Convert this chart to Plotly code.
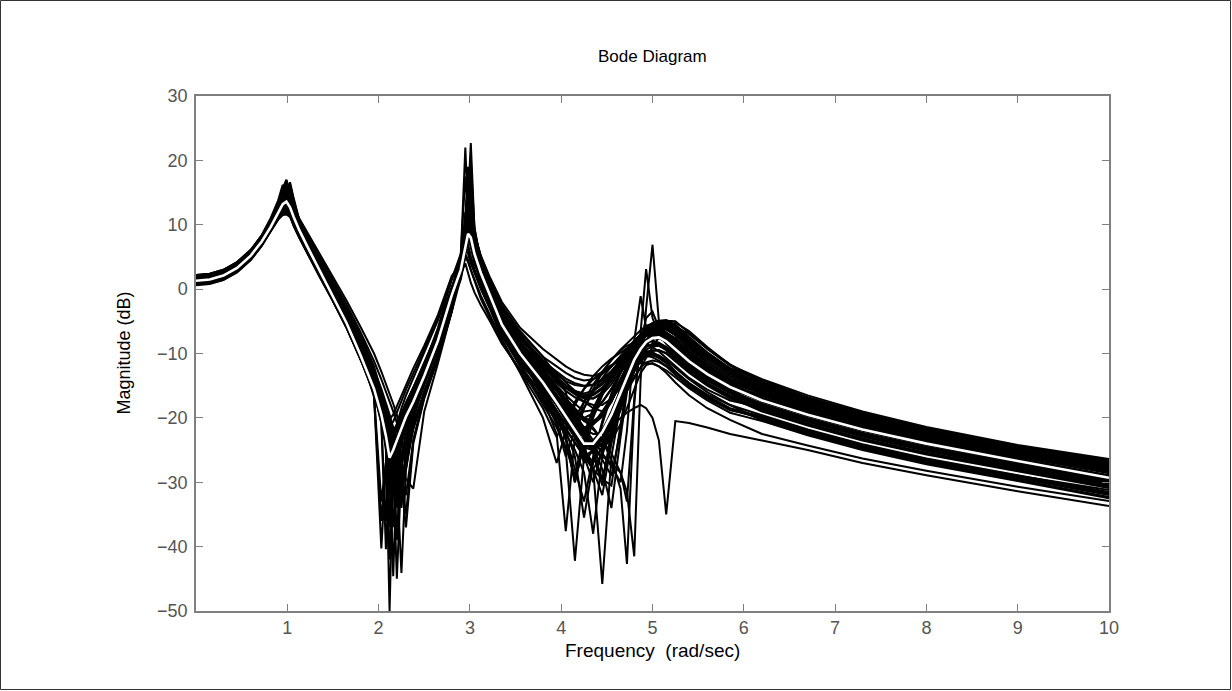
import plotly.graph_objects as go

# Frequency grid (rad/sec) shared by every curve
freq = [0.0, 0.15, 0.3, 0.45, 0.6, 0.72, 0.82, 0.9, 0.95, 0.99,
        1.03, 1.07, 1.13, 1.22, 1.35, 1.5, 1.65, 1.8,
        1.95, 2.03, 2.08, 2.12, 2.16, 2.2, 2.25, 2.3, 2.38, 2.5, 2.65, 2.8,
        2.9, 2.95, 2.98, 3.01, 3.05, 3.12, 3.22, 3.35, 3.55,
        3.8, 3.95, 4.05, 4.15, 4.25, 4.35, 4.45, 4.55, 4.65, 4.72,
        4.8, 4.87, 4.93, 5.0, 5.07, 5.15, 5.25, 5.4, 5.6, 5.85,
        6.2, 6.7, 7.3, 8.0, 9.0, 10.0]

# Nominal model magnitude (dB) - white curve
nominal = [1.3, 1.5, 2.1, 3.3, 5.2, 7.4, 9.7, 11.8, 13.2, 13.6, 12.7, 11.2, 9.2, 6.6, 3.0, -1.0, -5.3, -10.2,
           -15.5, -19.5, -22.8, -26.2, -25.0, -23.5, -21.6, -19.8, -17.5, -13.5, -8.0, -1.0,
           3.0, 6.8, 8.6, 8.0, 5.5, 2.5, -1.0, -5.5, -10.0,
           -14.5, -17.6, -19.8, -22.0, -24.0, -24.0, -22.2, -19.5, -16.0, -13.5, -11.0, -9.3, -8.2, -7.6, -7.5, -8.1, -9.3, -11.2, -13.2, -15.2,
           -17.3, -19.5, -21.8, -24.0, -26.7, -29.3]

# Perturbed (uncertain) model magnitudes (dB) - black curves
mag_01 = [2.2, 2.4, 3.0, 4.2, 6.1, 8.3, 10.6, 13.3, 15.5, 16.9, 15.0, 12.7, 10.3, 7.5, 3.9, -0.1, -4.4, -9.4,
          -15.7, -20.0, -24.5, -50.0, -27.5, -24.3, -22.0, -20.0, -17.6, -13.6, -8.2, -1.2,
          4.0, 9.0, 14.0, 22.7, 9.5, 4.0, -0.5, -5.0, -9.5,
          -13.8, -16.8, -18.8, -21.0, -23.0, -24.5, -24.0, -21.5, -18.0, -15.3, -12.5, -10.2, -8.6, -7.5, -7.0, -7.2, -8.2, -10.2, -12.3, -14.4,
          -16.3, -18.6, -20.9, -23.1, -25.8, -28.4]
mag_02 = [1.9, 2.1, 2.7, 3.9, 5.8, 8.0, 10.3, 12.8, 14.6, 15.6, 14.1, 12.2, 9.9, 7.2, 3.6, -0.4, -4.7, -9.6,
          -14.8, -17.8, -19.3, -20.2, -19.5, -18.2, -16.4, -14.7, -12.3, -8.8, -4.0, 2.0,
          4.0, 8.5, 12.0, 11.0, 8.0, 4.5, 1.5, -2.5, -6.5,
          -10.5, -12.0, -13.0, -13.8, -14.2, -14.0, -13.2, -12.0, -10.5, -9.3, -8.0, -7.0, -6.3, -5.8, -5.6, -5.8, -6.6, -8.3, -10.2, -12.3,
          -14.2, -16.8, -19.2, -21.6, -24.4, -26.6]
mag_03 = [1.6, 1.8, 2.4, 3.6, 5.5, 7.7, 10.0, 12.3, 14.0, 14.7, 13.5, 11.7, 9.6, 6.9, 3.3, -0.7, -5.0, -9.9,
          -16.5, -40.3, -27.5, -25.0, -23.0, -21.3, -19.5, -17.8, -15.5, -11.8, -6.8, 0.0,
          4.0, 9.5, 18.0, 11.5, 6.5, 3.0, -0.5, -5.0, -9.5,
          -17.0, -22.5, -37.6, -23.0, -18.5, -15.5, -13.0, -11.0, -9.5, -8.8, -8.3, -8.2, -8.5, -9.0, -9.7, -10.7, -12.0, -13.8, -15.6, -17.3,
          -18.4, -20.6, -22.9, -25.1, -27.7, -30.3]
mag_04 = [1.4, 1.6, 2.2, 3.4, 5.3, 7.5, 9.8, 12.0, 13.5, 13.9, 12.9, 11.4, 9.3, 6.7, 3.1, -0.9, -5.2, -10.2,
          -15.0, -18.8, -21.8, -25.5, -44.6, -27.5, -23.5, -21.2, -18.5, -14.3, -8.7, -1.6,
          3.5, 8.0, 11.0, 16.0, 8.0, 3.5, -0.3, -5.0, -9.5,
          -16.5, -20.5, -25.0, -42.2, -26.0, -20.0, -16.5, -13.5, -11.0, -9.5, -8.2, -7.3, -7.0, -7.0, -7.4, -8.3, -9.6, -11.5, -13.5, -15.5,
          -17.4, -19.6, -21.9, -24.1, -26.8, -29.4]
mag_05 = [1.0, 1.2, 1.8, 3.0, 4.9, 7.1, 9.4, 11.4, 12.7, 12.9, 12.2, 10.8, 8.9, 6.3, 2.9, -0.6, -3.8, -7.8,
          -13.0, -17.0, -19.8, -22.5, -25.2, -29.0, -44.1, -28.0, -21.5, -16.0, -10.0, -2.8,
          3.5, 8.5, 13.0, 10.0, 6.5, 3.0, -0.5, -5.0, -9.5,
          -14.8, -17.5, -19.5, -21.5, -24.5, -28.0, -45.8, -26.0, -18.0, -14.5, -11.5, -9.5, -8.2, -7.4, -7.2, -7.8, -9.0, -11.0, -13.0, -15.0,
          -17.1, -19.3, -21.6, -23.8, -26.5, -29.1]
mag_06 = [0.7, 0.9, 1.5, 2.7, 4.6, 6.8, 9.1, 10.9, 11.6, 11.8, 11.4, 10.3, 8.5, 6.0, 2.4, -1.6, -5.9, -10.8,
          -15.2, -19.0, -22.0, -25.0, -28.5, -39.0, -27.5, -23.5, -19.5, -14.8, -9.0, -2.0,
          2.0, 6.0, 5.5, 4.0, 2.5, 0.0, -3.0, -7.0, -11.5,
          -15.5, -19.0, -22.0, -26.0, -35.5, -27.0, -21.0, -16.5, -13.0, -11.0, -9.3, -8.0, -7.3, -6.9, -6.9, -7.5, -8.8, -10.8, -12.9, -14.9,
          -17.0, -19.2, -21.5, -23.7, -26.4, -29.0]
mag_07 = [1.8, 2.0, 2.6, 3.8, 5.5, 7.5, 9.5, 11.3, 12.5, 14.6, 16.3, 13.8, 10.7, 8.1, 4.4, 0.3, -4.1, -9.6,
          -16.0, -20.8, -40.4, -28.0, -25.0, -23.0, -21.0, -19.0, -16.8, -12.8, -7.5, -0.5,
          4.5, 10.0, 15.0, 11.0, 7.0, 3.5, 0.0, -4.5, -9.0,
          -13.5, -15.5, -17.0, -18.5, -20.0, -21.5, -23.5, -26.5, -31.0, -42.7, -18.0, -6.0, 3.1, -4.5, -7.0, -8.5, -10.0, -12.0, -14.0, -16.0,
          -18.1, -20.3, -22.6, -24.8, -27.4, -30.0]
mag_08 = [1.2, 1.4, 2.0, 3.2, 5.3, 7.7, 10.4, 12.9, 15.2, 13.7, 11.4, 9.9, 8.1, 5.6, 2.3, -1.0, -4.5, -8.4,
          -13.2, -16.5, -18.7, -20.8, -23.0, -25.0, -27.5, -29.5, -31.0, -19.0, -11.5, -3.5,
          2.8, 7.5, 11.0, 9.5, 6.0, 2.8, -0.8, -5.3, -9.8,
          -13.8, -15.8, -17.3, -18.8, -20.2, -21.8, -23.5, -25.5, -28.5, -31.5, -41.5, -14.0, -3.0, 6.9, -5.0, -8.0, -9.8, -11.8, -13.8, -15.8,
          -18.0, -20.2, -22.5, -24.7, -27.3, -29.9]
mag_09 = [2.1, 2.3, 2.9, 4.1, 6.0, 8.2, 10.5, 13.1, 15.2, 16.4, 14.7, 12.5, 10.2, 7.4, 3.8, -0.2, -4.5, -9.5,
          -15.8, -20.3, -24.0, -35.0, -28.0, -24.8, -22.3, -20.3, -17.8, -13.7, -8.3, -1.3,
          5.0, 22.0, 12.0, 7.0, 4.5, 1.5, -2.0, -6.5, -11.0,
          -12.0, -14.0, -15.0, -15.8, -16.2, -15.8, -14.8, -13.2, -11.2, -9.8, -8.3, -7.0, -6.0, -5.3, -5.0, -5.0, -5.8, -7.8, -10.2, -12.6,
          -15.2, -17.6, -20.0, -22.4, -25.2, -27.4]
mag_10 = [1.8, 2.0, 2.6, 3.8, 5.7, 7.9, 10.2, 12.6, 14.4, 15.3, 13.9, 12.0, 9.8, 7.1, 3.5, -0.5, -4.8, -9.7,
          -15.3, -19.3, -22.5, -26.0, -30.0, -26.0, -22.8, -20.6, -18.0, -13.9, -8.5, -1.5,
          3.3, 8.2, 12.5, 9.8, 6.3, 2.9, -0.6, -5.1, -9.6,
          -14.0, -16.5, -18.2, -20.0, -22.0, -24.5, -28.0, -34.0, -23.0, -16.0, -11.0, -8.5, -7.2, -6.5, -6.4, -7.0, -8.3, -10.3, -12.5, -14.6,
          -16.9, -19.1, -21.4, -23.6, -26.3, -28.9]
mag_11 = [1.5, 1.7, 2.3, 3.5, 5.4, 7.6, 9.9, 12.2, 13.8, 14.5, 13.3, 11.6, 9.5, 6.8, 3.2, -0.8, -5.1, -10.0,
          -15.2, -18.8, -21.2, -23.0, -22.5, -21.2, -19.5, -17.8, -15.3, -11.5, -6.5, 0.3,
          3.1, 7.0, 8.9, 8.2, 5.7, 2.6, -0.9, -5.4, -9.9,
          -15.5, -18.8, -21.0, -23.0, -24.5, -24.0, -22.0, -19.8, -17.5, -15.8, -13.8, -12.0, -10.5, -9.0, -7.5, -6.0, -5.2, -6.5, -9.0, -11.8,
          -14.0, -16.5, -19.0, -21.4, -24.2, -26.4]
mag_12 = [1.4, 1.6, 2.2, 3.4, 5.3, 7.5, 9.8, 12.0, 13.5, 14.1, 13.0, 11.4, 9.4, 6.9, 3.5, -0.2, -3.6, -7.6,
          -13.0, -17.0, -20.0, -23.0, -25.8, -28.5, -33.0, -27.0, -21.8, -16.3, -10.3, -3.2,
          2.6, 7.2, 10.5, 9.0, 5.6, 2.4, -1.2, -5.8, -10.4,
          -15.0, -17.5, -19.0, -20.5, -21.8, -22.5, -22.5, -21.5, -20.0, -19.2, -18.5, -18.0, -18.5, -20.0, -23.5, -35.0, -20.5, -20.8, -21.5, -22.5,
          -23.5, -25.0, -27.0, -28.9, -31.4, -33.7]
mag_13 = [0.9, 1.1, 1.7, 2.9, 4.8, 7.0, 9.3, 11.2, 12.4, 12.5, 11.9, 10.6, 8.7, 6.2, 2.6, -1.4, -5.7, -10.6,
          -15.5, -19.6, -23.0, -27.0, -25.3, -23.6, -21.7, -19.9, -17.6, -13.6, -8.1, -1.1,
          2.5, 4.0, 2.5, 1.0, -0.5, -2.5, -5.0, -8.5, -12.5,
          -16.0, -17.0, -18.5, -20.5, -22.5, -24.0, -24.5, -23.5, -21.0, -18.5, -15.5, -13.0, -11.8, -11.5, -12.0, -13.0, -14.5, -16.5, -18.5, -20.3,
          -22.5, -24.3, -26.3, -28.2, -30.7, -32.9]
mag_14 = [0.8, 1.0, 1.6, 2.8, 4.7, 6.9, 9.2, 11.1, 11.9, 12.1, 11.6, 10.5, 8.6, 6.3, 2.9, -0.7, -4.2, -8.0,
          -13.0, -16.6, -19.2, -21.6, -23.8, -26.5, -30.0, -37.0, -24.0, -17.0, -10.8, -3.5,
          3.2, 7.5, 10.0, 8.0, 4.5, 1.0, -2.8, -7.8, -13.0,
          -20.0, -27.0, -22.0, -18.0, -15.5, -13.5, -12.0, -10.8, -9.8, -9.2, -8.6, -8.2, -8.0, -8.0, -8.3, -9.0, -10.2, -12.0, -14.0, -16.0,
          -18.2, -20.4, -22.7, -24.9, -27.5, -30.1]
mag_15 = [1.7, 1.9, 2.5, 3.7, 5.4, 7.4, 9.4, 11.2, 12.4, 14.2, 15.8, 13.4, 10.6, 8.0, 4.3, 0.2, -4.1, -9.7,
          -15.6, -19.8, -23.3, -28.0, -25.8, -23.9, -21.9, -20.0, -17.7, -13.7, -8.2, -1.2,
          3.8, 9.2, 17.0, 11.0, 6.2, 2.8, -0.7, -5.2, -9.7,
          -15.0, -18.0, -20.5, -23.0, -26.0, -30.0, -25.0, -20.0, -15.5, -13.0, -10.8, -9.2, -8.2, -7.6, -7.5, -8.0, -9.2, -11.1, -13.1, -15.1,
          -16.5, -18.8, -21.1, -23.3, -26.0, -28.6]
mag_16 = [1.1, 1.3, 1.9, 3.1, 5.2, 7.6, 10.3, 12.8, 14.8, 13.4, 11.3, 9.8, 8.0, 5.5, 2.0, -1.9, -6.1, -10.8,
          -15.4, -19.0, -21.5, -23.5, -23.0, -21.6, -19.8, -18.0, -15.5, -11.7, -6.7, 0.1,
          3.8, 8.3, 12.8, 10.5, 7.6, 4.2, 1.2, -2.8, -7.0,
          -12.3, -14.3, -15.4, -16.3, -16.8, -16.5, -15.5, -13.8, -11.8, -10.3, -8.7, -7.3, -6.3, -5.6, -5.3, -5.4, -6.2, -8.2, -10.6, -13.0,
          -15.5, -17.9, -20.3, -22.7, -25.4, -27.7]
mag_17 = [2.0, 2.2, 2.8, 4.0, 5.9, 8.1, 10.4, 12.9, 14.9, 15.9, 14.4, 12.3, 10.1, 7.3, 3.7, -0.3, -4.6, -9.5,
          -15.1, -19.0, -22.2, -26.5, -37.0, -28.0, -23.8, -21.4, -18.7, -14.5, -8.9, -1.8,
          4.2, 9.6, 14.5, 10.6, 6.8, 3.3, -0.2, -4.8, -9.3,
          -14.0, -16.5, -18.0, -19.8, -21.5, -23.5, -25.5, -27.5, -30.0, -22.0, -8.0, -1.1, -6.0, -8.0, -8.6, -9.3, -10.5, -12.3, -14.2, -16.0,
          -18.3, -20.5, -22.8, -25.0, -27.6, -30.2]
mag_18 = [1.7, 1.9, 2.5, 3.7, 5.6, 7.8, 10.1, 12.5, 14.2, 15.0, 13.7, 11.9, 9.7, 7.0, 3.4, -0.6, -4.9, -9.8,
          -15.0, -18.8, -21.6, -24.5, -27.5, -33.0, -26.5, -23.0, -19.2, -14.6, -8.8, -1.8,
          3.4, 7.8, 10.5, 15.0, 7.5, 3.2, -0.6, -5.3, -9.8,
          -16.0, -19.5, -21.8, -24.0, -26.0, -28.0, -25.5, -22.0, -18.0, -15.0, -12.5, -11.0, -10.2, -10.0, -10.3, -11.0, -12.2, -14.0, -16.0, -18.0,
          -20.4, -22.6, -24.8, -27.0, -29.6, -32.3]
mag_19 = [1.2, 1.4, 2.0, 3.2, 5.1, 7.3, 9.6, 11.7, 13.1, 13.5, 12.6, 11.1, 9.1, 6.5, 2.9, -1.1, -5.4, -10.3,
          -15.8, -20.2, -25.0, -42.0, -27.0, -24.0, -21.8, -19.9, -17.5, -13.5, -8.1, -1.1,
          3.6, 8.7, 13.5, 10.3, 6.7, 3.1, -0.4, -4.9, -9.4,
          -13.5, -16.4, -18.4, -20.6, -22.6, -24.2, -24.3, -22.3, -18.8, -15.8, -12.8, -10.2, -8.5, -7.2, -6.6, -6.7, -7.7, -9.8, -12.0, -14.1,
          -16.0, -18.3, -20.6, -22.8, -25.5, -28.1]
mag_20 = [1.1, 1.3, 1.9, 3.1, 5.0, 7.2, 9.5, 11.5, 12.8, 13.1, 12.3, 10.9, 9.0, 6.4, 2.8, -1.2, -5.5, -10.4,
          -15.6, -20.0, -23.5, -32.0, -27.5, -24.5, -22.0, -20.1, -17.7, -13.6, -8.2, -1.2,
          2.9, 7.6, 11.5, 9.3, 5.8, 2.6, -0.9, -5.4, -9.9,
          -14.7, -17.8, -20.2, -22.8, -25.5, -28.0, -29.5, -23.0, -17.0, -13.8, -11.2, -9.4, -8.3, -7.7, -7.6, -8.1, -9.3, -11.2, -13.2, -15.2,
          -17.5, -19.7, -22.0, -24.2, -26.9, -29.6]
mag_21 = [2.0, 2.2, 2.8, 4.0, 5.9, 8.1, 10.4, 12.9, 15.0, 16.0, 14.5, 12.3, 10.1, 7.3, 3.7, -0.3, -4.6, -9.5,
          -15.6, -19.7, -23.2, -29.0, -26.0, -24.0, -21.9, -20.0, -17.7, -13.7, -8.2, -1.2,
          2.9, 6.6, 9.3, 8.3, 5.4, 2.3, -1.2, -5.7, -10.2,
          -14.5, -17.6, -19.8, -22.0, -24.0, -24.0, -22.2, -19.5, -16.5, -14.5, -12.5, -11.2, -10.5, -10.3, -10.6, -11.4, -12.8, -14.7, -16.7, -18.6,
          -20.2, -22.4, -24.6, -26.8, -29.4, -32.0]
mag_22 = [0.6, 0.8, 1.4, 2.6, 4.5, 6.7, 9.0, 10.8, 11.5, 11.6, 11.2, 10.2, 8.4, 5.9, 2.3, -1.7, -6.0, -10.9,
          -15.4, -19.5, -22.9, -27.0, -32.0, -26.5, -23.0, -20.7, -18.1, -14.0, -8.6, -1.6,
          2.2, 6.5, 7.0, 5.0, 3.0, 0.3, -2.8, -6.8, -11.3,
          -15.0, -18.0, -20.3, -22.6, -24.6, -25.0, -23.5, -21.0, -18.0, -15.8, -13.6, -12.2, -11.4, -11.1, -11.3, -12.0, -13.3, -15.1, -17.0, -18.8,
          -19.8, -22.0, -24.3, -26.5, -29.1, -31.7]
mag_23 = [1.4, 1.6, 2.2, 3.4, 5.3, 7.5, 9.8, 12.1, 13.7, 14.3, 13.2, 11.5, 9.4, 6.7, 3.1, -0.9, -5.2, -10.1,
          -15.0, -18.2, -20.0, -21.2, -20.6, -19.3, -17.4, -15.6, -13.1, -9.4, -4.6, 1.5,
          4.2, 8.8, 12.5, 11.5, 8.3, 4.7, 1.2, -3.0, -7.2,
          -11.2, -12.8, -13.9, -14.6, -15.0, -14.8, -14.0, -12.7, -11.0, -9.8, -8.4, -7.3, -6.5, -6.0, -5.9, -6.2, -7.0, -8.8, -10.8, -12.9,
          -15.0, -17.4, -19.8, -22.2, -25.0, -27.2]
mag_24 = [1.9, 2.1, 2.7, 3.9, 5.6, 7.6, 9.6, 11.4, 12.6, 14.9, 16.6, 14.1, 10.8, 8.2, 4.5, 0.4, -3.9, -9.5,
          -16.8, -36.0, -27.0, -24.7, -22.8, -21.1, -19.3, -17.6, -15.3, -11.6, -6.6, 0.2,
          4.6, 10.5, 16.5, 11.5, 7.2, 3.6, 0.1, -4.4, -8.9,
          -15.5, -19.0, -23.5, -30.0, -24.0, -19.0, -15.8, -13.0, -10.8, -9.4, -8.1, -7.2, -6.7, -6.5, -6.7, -7.5, -8.8, -10.8, -12.9, -15.0,
          -17.1, -19.3, -21.6, -23.8, -26.5, -29.1]
mag_25 = [1.3, 1.5, 2.1, 3.3, 5.4, 7.8, 10.5, 13.0, 15.0, 13.5, 11.5, 10.0, 8.2, 5.7, 2.6, -0.9, -4.3, -8.2,
          -13.5, -17.2, -19.9, -22.6, -25.3, -28.0, -31.0, -26.0, -21.0, -15.8, -10.0, -3.0,
          3.9, 9.3, 16.0, 11.2, 6.4, 2.9, -0.6, -5.1, -9.6,
          -14.2, -16.8, -18.6, -20.5, -22.6, -25.3, -29.5, -30.5, -21.0, -15.0, -10.5, -8.2, -7.0, -6.4, -6.3, -6.9, -8.1, -10.1, -12.3, -14.4,
          -16.3, -18.6, -20.9, -23.1, -25.8, -28.4]
mag_26 = [1.8, 2.0, 2.6, 3.8, 5.7, 7.9, 10.2, 12.5, 14.2, 15.0, 13.7, 11.9, 9.8, 7.3, 4.0, 0.4, -3.0, -7.0,
          -12.0, -15.8, -18.5, -21.0, -23.3, -26.0, -29.5, -35.0, -23.5, -16.5, -10.5, -3.2,
          3.3, 7.7, 10.2, 14.0, 7.3, 3.0, -0.7, -5.4, -9.9,
          -15.8, -19.5, -23.0, -28.0, -33.0, -26.0, -20.5, -16.2, -12.8, -10.8, -9.2, -7.9, -7.2, -6.8, -6.8, -7.4, -8.7, -10.7, -12.8, -14.8,
          -17.0, -19.2, -21.5, -23.7, -26.4, -29.0]
mag_27 = [1.6, 1.8, 2.4, 3.6, 5.5, 7.7, 10.0, 12.2, 13.7, 14.2, 13.2, 11.6, 9.5, 6.9, 3.3, -0.7, -5.0, -9.8,
          -15.2, -19.0, -22.0, -25.5, -31.0, -26.0, -22.5, -20.4, -17.9, -13.8, -8.3, -1.3,
          4.0, 9.8, 17.0, 11.0, 6.8, 3.3, -0.2, -4.5, -8.8,
          -12.8, -15.0, -16.5, -17.8, -19.0, -18.8, -17.5, -15.5, -13.0, -11.3, -9.5, -8.0, -7.0, -6.5, -6.4, -6.8, -7.9, -9.9, -12.0, -14.1,
          -16.2, -18.5, -20.8, -23.0, -25.7, -28.3]
mag_28 = [1.1, 1.3, 1.9, 3.1, 5.0, 7.2, 9.5, 11.6, 13.0, 13.3, 12.4, 11.0, 9.0, 6.4, 2.8, -1.2, -5.5, -10.1,
          -15.0, -18.7, -21.5, -24.5, -28.0, -38.0, -27.0, -23.0, -19.3, -14.6, -8.8, -1.8,
          3.2, 8.0, 12.0, 9.5, 6.0, 2.7, -0.8, -5.3, -9.8,
          -14.8, -18.0, -20.3, -22.6, -25.0, -27.0, -24.5, -21.0, -17.0, -14.3, -11.8, -10.0, -9.0, -8.5, -8.5, -9.0, -10.1, -12.0, -14.0, -16.0,
          -17.9, -20.1, -22.4, -24.6, -27.2, -29.8]
mag_29 = [1.9, 2.1, 2.7, 3.9, 5.8, 8.0, 10.3, 12.7, 14.4, 15.2, 13.9, 12.1, 9.9, 7.2, 3.6, -0.4, -4.7, -9.6,
          -15.0, -18.8, -21.6, -26.0, -24.6, -22.9, -20.9, -19.0, -16.6, -12.6, -7.3, -0.3,
          4.5, 10.5, 19.0, 12.0, 7.3, 3.8, 0.4, -3.9, -8.2,
          -12.0, -14.0, -15.2, -16.2, -17.0, -17.0, -16.0, -14.3, -12.2, -10.7, -9.0, -7.6, -6.6, -5.9, -5.5, -5.5, -6.3, -8.3, -10.6, -12.9,
          -15.3, -17.7, -20.1, -22.5, -25.2, -27.5]
mag_30 = [1.3, 1.5, 2.1, 3.3, 5.2, 7.4, 9.7, 11.9, 13.4, 14.0, 12.9, 11.3, 9.2, 6.6, 3.0, -1.0, -5.3, -10.0,
          -15.2, -19.0, -22.0, -25.0, -28.0, -34.0, -26.5, -22.8, -19.0, -14.4, -8.7, -1.7,
          3.0, 7.0, 9.5, 8.6, 5.8, 2.6, -1.0, -5.5, -10.2,
          -15.0, -18.0, -20.0, -21.6, -22.0, -21.0, -19.0, -16.8, -14.5, -13.0, -11.4, -10.2, -9.4, -8.9, -8.8, -9.2, -10.3, -12.2, -14.2, -16.2,
          -18.4, -20.6, -22.9, -25.1, -27.8, -30.5]
mag_31 = [1.7, 1.9, 2.5, 3.7, 5.6, 7.8, 10.1, 12.7, 14.9, 16.1, 14.4, 12.1, 9.8, 7.0, 3.4, -0.6, -4.9, -9.8,
          -15.4, -19.5, -22.9, -29.0, -26.0, -24.0, -22.0, -20.1, -17.7, -13.7, -8.2, -1.2,
          3.3, 7.8, 10.5, 14.0, 8.0, 3.5, -0.3, -4.9, -9.4,
          -15.5, -19.5, -23.0, -30.0, -24.0, -19.5, -16.0, -13.2, -10.8, -9.5, -8.3, -7.6, -7.2, -7.2, -7.5, -8.3, -9.6, -11.6, -13.7, -15.7,
          -17.0, -19.3, -21.6, -23.8, -26.5, -29.0]
mag_32 = [1.0, 1.2, 1.8, 3.0, 4.9, 7.1, 9.4, 11.4, 12.5, 12.7, 12.0, 10.8, 8.8, 6.3, 2.7, -1.3, -5.6, -10.3,
          -15.3, -18.8, -21.4, -24.0, -23.3, -22.0, -20.2, -18.5, -16.0, -12.2, -7.2, -0.4,
          2.5, 7.0, 6.5, 5.0, 3.0, 0.5, -2.6, -6.8, -11.2,
          -15.3, -18.0, -19.8, -21.5, -23.0, -24.2, -25.0, -23.0, -18.5, -15.3, -12.8, -11.0, -10.0, -9.6, -9.5, -9.9, -11.0, -12.8, -14.8, -16.8,
          -19.0, -21.2, -23.5, -25.7, -28.3, -30.9]
mag_33 = [1.5, 1.7, 2.3, 3.5, 5.4, 7.6, 9.9, 12.2, 13.9, 14.6, 13.4, 11.6, 9.5, 6.8, 3.2, -0.8, -5.1, -10.0,
          -16.0, -20.8, -36.0, -27.5, -24.8, -22.9, -20.9, -19.0, -16.7, -12.7, -7.4, -0.4,
          3.8, 8.8, 12.5, 18.5, 9.0, 4.0, 0.0, -4.5, -9.0,
          -13.2, -15.8, -17.5, -19.0, -20.5, -21.0, -19.8, -17.5, -14.5, -12.3, -10.0, -8.3, -7.2, -6.5, -6.1, -6.2, -7.2, -9.2, -11.4, -13.6,
          -15.9, -18.2, -20.5, -22.8, -25.5, -28.1]
mag_34 = [0.9, 1.1, 1.7, 2.9, 4.8, 7.0, 9.3, 11.3, 12.6, 12.9, 12.1, 10.7, 8.8, 6.2, 2.6, -1.4, -5.7, -10.4,
          -15.2, -19.0, -21.8, -24.6, -26.5, -28.0, -25.5, -22.8, -19.2, -14.5, -8.7, -1.7,
          3.0, 7.8, 10.5, 8.9, 5.8, 2.6, -1.0, -5.5, -10.0,
          -16.5, -21.0, -26.0, -22.0, -18.5, -16.0, -13.8, -12.0, -10.5, -9.5, -8.6, -8.1, -8.0, -8.2, -8.7, -9.5, -10.8, -12.6, -14.6, -16.5,
          -18.1, -20.3, -22.6, -24.8, -27.5, -30.1]
mag_35 = [2.1, 2.3, 2.9, 4.1, 6.0, 8.2, 10.5, 13.2, 15.3, 16.6, 14.8, 12.6, 10.2, 7.4, 3.8, -0.2, -4.5, -9.4,
          -14.9, -18.6, -21.5, -24.5, -28.0, -45.0, -27.8, -23.5, -19.5, -14.8, -8.9, -1.9,
          3.6, 8.6, 13.5, 10.4, 6.8, 3.2, -0.4, -4.9, -9.4,
          -14.0, -17.0, -19.2, -21.5, -24.0, -23.5, -21.8, -19.5, -16.5, -14.2, -11.8, -9.8, -8.0, -6.5, -5.5, -4.9, -5.0, -6.8, -9.3, -11.9,
          -14.6, -17.1, -19.5, -21.9, -24.7, -27.0]
mag_36 = [1.4, 1.6, 2.2, 3.4, 5.3, 7.5, 9.8, 11.9, 13.4, 13.8, 12.9, 11.3, 9.3, 6.7, 3.1, -0.9, -5.0, -9.6,
          -14.8, -18.3, -20.9, -23.6, -26.0, -28.0, -30.0, -26.0, -21.5, -16.2, -10.2, -3.0,
          3.4, 9.0, 16.0, 10.8, 6.6, 3.1, -0.4, -4.9, -9.4,
          -14.2, -16.8, -18.5, -20.2, -22.0, -24.0, -26.5, -29.0, -22.0, -15.0, -10.0, -7.2, -6.0, -5.5, -5.9, -6.8, -8.2, -10.3, -12.5, -14.6,
          -16.9, -19.2, -21.5, -23.7, -26.4, -29.0]
mag_37 = [1.2, 1.4, 2.0, 3.2, 5.3, 7.7, 10.4, 12.9, 14.4, 13.0, 11.4, 9.9, 8.1, 5.6, 2.1, -1.8, -6.0, -10.8,
          -16.4, -33.0, -27.0, -24.8, -22.9, -21.2, -19.4, -17.7, -15.4, -11.7, -6.7, 0.1,
          4.2, 12.0, 8.5, 6.5, 4.0, 1.2, -2.2, -6.6, -11.0,
          -15.0, -18.0, -20.2, -22.5, -25.0, -28.0, -32.0, -24.0, -18.0, -14.5, -11.5, -10.0, -9.6, -9.8, -10.4, -11.3, -12.8, -14.8, -16.8, -18.8,
          -20.0, -22.2, -24.5, -26.7, -29.3, -31.8]
mag_38 = [1.8, 2.0, 2.6, 3.8, 5.7, 7.9, 10.2, 12.5, 14.2, 14.9, 13.7, 11.9, 9.8, 7.1, 3.5, -0.5, -4.8, -9.7,
          -15.0, -18.8, -21.8, -24.8, -27.0, -24.6, -22.0, -20.0, -17.5, -13.4, -8.0, -1.0,
          3.8, 8.6, 12.8, 20.0, 9.5, 4.3, 0.5, -3.8, -8.2,
          -12.5, -15.5, -17.5, -19.5, -20.0, -19.3, -17.6, -15.5, -13.0, -11.3, -9.5, -8.0, -7.0, -6.3, -5.9, -6.0, -6.8, -8.6, -10.7, -12.8,
          -14.6, -17.1, -19.6, -22.0, -24.8, -26.9]
mag_39 = [0.8, 1.0, 1.6, 2.8, 4.7, 6.9, 9.2, 11.1, 12.1, 12.2, 11.7, 10.5, 8.6, 6.3, 2.8, -1.0, -5.0, -9.4,
          -14.5, -17.8, -20.0, -22.3, -24.5, -26.8, -29.5, -32.0, -23.5, -16.8, -10.7, -3.6,
          1.8, 5.5, 4.5, 3.0, 1.5, -1.0, -4.0, -8.0, -12.8,
          -18.5, -23.0, -20.0, -17.5, -15.5, -14.0, -12.8, -11.8, -11.0, -10.6, -10.3, -10.2, -10.3, -10.6, -11.1, -11.9, -13.0, -14.6, -16.4, -18.0,
          -19.6, -21.8, -24.1, -26.3, -28.9, -31.5]
mag_40 = [1.5, 1.7, 2.3, 3.5, 5.2, 7.2, 9.2, 11.0, 12.2, 13.9, 15.4, 13.0, 10.4, 7.8, 4.1, 0.0, -4.0, -9.0,
          -14.0, -17.0, -19.0, -21.0, -23.0, -25.0, -22.5, -20.2, -17.3, -13.0, -7.6, -0.8,
          3.0, 7.2, 9.5, 11.0, 7.5, 3.5, 0.2, -4.2, -8.5,
          -12.8, -14.6, -15.8, -16.8, -17.5, -18.0, -18.0, -17.0, -15.3, -13.8, -12.0, -10.3, -8.8, -7.6, -6.6, -6.0, -5.8, -7.0, -9.2, -11.7,
          -14.4, -16.9, -19.3, -21.7, -24.5, -26.8]
mag_41 = [1.8, 2.0, 2.6, 3.8, 5.7, 7.9, 10.2, 12.6, 14.5, 15.5, 14.4, 12.9, 11.0, 8.8, 5.6, 2.0, -1.8, -5.8,
          -10.0, -12.8, -14.6, -16.2, -17.8, -19.5, -24.0, -21.0, -16.5, -11.8, -6.0, 1.5,
          5.5, 9.0, 14.0, 11.0, 8.5, 5.2, 1.8, -2.0, -6.0,
          -9.3, -11.0, -12.0, -12.8, -13.3, -13.5, -13.0, -12.0, -10.5, -9.3, -8.0, -7.0, -6.2, -5.6, -5.3, -5.2, -5.8, -7.6, -9.9, -12.4,
          -14.8, -17.3, -19.7, -22.1, -24.9, -27.0]
mag_42 = [1.6, 1.8, 2.4, 3.6, 5.4, 7.6, 9.8, 12.0, 13.6, 14.6, 13.9, 12.6, 10.8, 8.5, 5.2, 1.5, -2.4, -6.6,
          -11.2, -14.0, -15.8, -17.4, -19.0, -20.8, -23.5, -28.0, -20.5, -14.0, -7.8, -0.2,
          4.6, 8.0, 12.0, 10.5, 7.8, 4.5, 1.0, -3.0, -7.5,
          -11.8, -13.8, -15.0, -16.0, -16.8, -17.0, -16.3, -14.8, -12.8, -11.2, -9.5, -8.1, -7.1, -6.5, -6.2, -6.3, -7.1, -9.0, -11.2, -13.5,
          -15.8, -18.2, -20.5, -22.8, -25.6, -27.8]
mag_43 = [1.9, 2.1, 2.7, 3.9, 5.8, 8.0, 10.3, 12.9, 15.0, 16.0, 14.7, 12.9, 10.8, 8.3, 4.9, 1.1, -3.0, -7.5,
          -12.5, -15.5, -17.6, -19.5, -21.5, -24.0, -33.0, -24.5, -18.8, -13.3, -7.3, 0.2,
          5.0, 10.0, 16.5, 11.8, 8.6, 5.0, 1.5, -2.5, -6.8,
          -10.5, -13.5, -16.0, -22.0, -17.5, -14.8, -12.8, -11.0, -9.4, -8.4, -7.3, -6.4, -5.7, -5.3, -5.0, -5.1, -5.9, -7.8, -10.1, -12.6,
          -15.0, -17.5, -19.9, -22.3, -25.0, -27.2]
mag_44 = [1.0, 1.2, 1.8, 3.0, 4.9, 7.1, 9.4, 11.5, 12.8, 13.0, 12.2, 10.8, 8.8, 6.2, 2.5, -1.5, -5.9, -10.8,
          -16.2, -20.3, -23.8, -29.0, -26.5, -24.5, -22.4, -20.5, -18.1, -14.0, -8.6, -1.7,
          2.4, 6.0, 7.5, 6.8, 4.3, 1.3, -2.4, -7.0, -11.8,
          -16.5, -19.5, -21.6, -23.8, -26.0, -25.0, -23.0, -20.0, -16.5, -14.2, -12.0, -10.6, -9.8, -9.5, -9.5, -10.0, -11.2, -13.0, -15.0, -17.0,
          -18.8, -21.0, -23.3, -25.5, -28.1, -30.8]
mag_45 = [1.4, 1.6, 2.2, 3.4, 5.3, 7.5, 9.8, 12.0, 13.5, 14.0, 13.2, 11.8, 9.9, 7.5, 4.0, 0.2, -4.0, -8.6,
          -13.5, -17.0, -19.8, -22.5, -25.0, -27.5, -24.0, -21.5, -18.5, -14.0, -8.3, -1.0,
          3.6, 8.0, 10.5, 13.0, 8.8, 5.0, 1.3, -3.0, -7.5,
          -11.5, -13.6, -15.0, -16.3, -17.5, -18.5, -19.0, -17.5, -14.5, -12.2, -9.8, -8.0, -7.0, -6.5, -6.6, -7.2, -8.5, -10.5, -12.7, -14.9,
          -16.6, -18.9, -21.2, -23.4, -26.1, -28.5]
mag_46 = [1.2, 1.4, 2.0, 3.2, 5.1, 7.3, 9.6, 11.7, 13.1, 13.6, 12.6, 11.1, 9.1, 6.5, 2.9, -1.1, -5.4, -10.4,
          -15.8, -20.0, -23.8, -36.0, -27.5, -24.6, -22.2, -20.2, -17.8, -13.7, -8.3, -1.3,
          3.0, 7.5, 10.0, 8.8, 5.9, 2.8, -0.8, -5.3, -9.8,
          -14.2, -17.3, -19.5, -21.8, -23.8, -24.5, -23.0, -20.3, -16.8, -14.2, -11.6, -9.7, -8.4, -7.5, -7.1, -7.4, -8.6, -10.7, -12.8, -14.9,
          -17.1, -19.4, -21.7, -23.9, -26.6, -29.2]
mag_47 = [1.7, 1.9, 2.5, 3.7, 5.6, 7.8, 10.1, 12.5, 14.2, 15.0, 13.9, 12.3, 10.3, 7.8, 4.3, 0.5, -3.6, -8.2,
          -12.8, -16.0, -18.2, -20.0, -22.0, -21.0, -18.5, -16.5, -13.8, -9.8, -4.8, 1.5,
          5.0, 9.5, 15.0, 11.3, 8.2, 4.8, 1.3, -2.8, -7.2,
          -11.0, -13.0, -14.5, -15.8, -16.5, -16.3, -15.3, -13.6, -11.5, -10.0, -8.4, -7.0, -6.0, -5.3, -4.9, -4.8, -5.5, -7.4, -9.8, -12.3,
          -14.9, -17.4, -19.8, -22.2, -25.0, -27.1]
mag_48 = [0.8, 1.0, 1.6, 2.8, 4.7, 6.9, 9.2, 11.2, 12.2, 12.4, 11.8, 10.6, 8.7, 6.1, 2.6, -1.3, -5.5, -10.2,
          -15.0, -18.8, -21.6, -24.5, -27.5, -31.0, -26.0, -22.8, -19.0, -14.4, -8.8, -1.9,
          2.6, 6.5, 6.0, 4.6, 2.8, 0.1, -3.0, -7.3, -12.0,
          -18.0, -21.5, -24.5, -29.0, -22.5, -18.5, -15.8, -13.8, -12.3, -11.3, -10.5, -10.1, -10.0, -10.2, -10.7, -11.5, -12.8, -14.6, -16.6, -18.5,
          -19.8, -22.0, -24.3, -26.5, -29.0, -31.2]
mag_49 = [1.5, 1.7, 2.3, 3.5, 5.2, 7.2, 9.2, 11.0, 12.2, 13.6, 14.8, 12.6, 10.4, 7.9, 4.4, 0.6, -3.4, -8.0,
          -12.8, -16.0, -18.3, -20.3, -22.5, -24.0, -26.0, -22.5, -18.5, -13.6, -7.8, -0.6,
          3.3, 7.0, 9.5, 11.5, 8.0, 4.3, 0.6, -3.8, -8.3,
          -12.8, -15.3, -17.0, -18.6, -20.0, -20.5, -19.5, -17.4, -14.6, -12.6, -10.5, -9.0, -7.9, -7.2, -6.8, -6.8, -7.6, -9.5, -11.7, -13.9,
          -16.0, -18.3, -20.6, -22.8, -25.5, -28.0]
mag_50 = [1.3, 1.5, 2.1, 3.3, 5.2, 7.4, 9.7, 11.8, 13.3, 13.7, 12.8, 11.2, 9.2, 6.6, 3.0, -1.0, -5.3, -10.2,
          -15.5, -19.5, -23.0, -27.5, -32.0, -26.5, -23.0, -20.6, -18.0, -13.9, -8.4, -1.4,
          2.9, 6.6, 8.0, 7.4, 5.0, 2.0, -1.5, -6.0, -10.8,
          -16.3, -19.2, -21.0, -22.8, -24.0, -25.0, -26.0, -27.0, -28.5, -33.0, -17.0, -8.5, -4.5, -3.5, -6.0, -8.0, -9.6, -11.6, -13.7, -15.8,
          -17.8, -20.0, -22.3, -24.5, -27.1, -29.8]
mag_51 = [1.9, 2.1, 2.7, 3.9, 6.0, 8.4, 11.1, 13.8, 16.2, 14.7, 12.6, 11.0, 9.1, 6.5, 2.8, -1.1, -5.3, -10.0,
          -15.4, -19.4, -22.7, -30.0, -26.0, -23.8, -21.6, -19.7, -17.3, -13.3, -7.8, -0.7,
          5.5, 17.5, 12.0, 8.5, 6.0, 3.0, -0.3, -4.5, -8.8,
          -12.5, -15.2, -17.2, -19.4, -21.5, -21.0, -19.2, -16.8, -13.9, -11.8, -9.6, -8.0, -6.9, -6.2, -5.8, -5.9, -6.8, -8.7, -10.9, -13.2,
          -15.6, -18.0, -20.4, -22.7, -25.4, -27.6]
mag_52 = [1.1, 1.3, 1.9, 3.1, 5.0, 7.2, 9.5, 11.3, 12.4, 12.6, 12.2, 11.0, 9.3, 7.0, 3.6, -0.1, -4.0, -8.4,
          -13.2, -16.5, -18.8, -21.0, -23.0, -24.8, -27.0, -23.5, -19.5, -14.5, -8.6, -1.4,
          2.8, 6.8, 9.0, 8.3, 5.6, 2.6, -1.0, -5.4, -9.8,
          -13.0, -15.8, -17.8, -20.0, -22.5, -25.5, -30.5, -22.0, -15.5, -12.3, -9.8, -8.2, -7.2, -6.7, -6.6, -7.0, -8.2, -10.2, -12.4, -14.6,
          -17.0, -19.3, -21.6, -23.8, -26.5, -29.1]
mag_53 = [1.6, 1.8, 2.4, 3.6, 5.5, 7.7, 10.0, 12.1, 13.5, 14.0, 13.1, 11.6, 9.6, 7.0, 3.5, -0.4, -4.5, -9.0,
          -14.0, -17.5, -20.0, -22.3, -24.5, -23.0, -20.6, -18.6, -16.0, -12.0, -6.9, 0.0,
          3.9, 8.3, 12.5, 10.6, 7.6, 4.2, 0.8, -3.5, -7.8,
          -11.5, -13.3, -14.3, -14.9, -15.1, -14.9, -14.2, -13.0, -11.4, -10.2, -8.8, -7.6, -6.6, -6.0, -5.6, -5.5, -6.2, -8.0, -10.3, -12.7,
          -15.1, -17.5, -19.9, -22.3, -25.0, -27.3]
mag_54 = [0.7, 0.9, 1.5, 2.7, 4.6, 6.8, 9.1, 10.9, 11.7, 11.9, 11.5, 10.5, 8.8, 6.5, 3.1, -0.6, -4.5, -8.9,
          -13.5, -16.8, -19.0, -21.0, -23.3, -26.0, -34.0, -25.0, -19.8, -14.8, -9.2, -2.2,
          1.5, 5.0, 4.2, 3.0, 1.2, -1.5, -4.5, -8.3, -12.8,
          -17.0, -20.0, -22.0, -20.0, -17.5, -15.8, -14.5, -13.4, -12.5, -12.0, -11.7, -11.5, -11.5, -11.6, -12.0, -12.6, -13.7, -15.4, -17.3, -19.2,
          -20.5, -22.7, -25.0, -27.2, -29.8, -32.5]
mag_55 = [2.2, 2.4, 3.0, 4.2, 6.1, 8.3, 10.6, 13.4, 15.6, 17.0, 15.1, 12.8, 10.3, 7.5, 3.9, -0.1, -4.4, -9.3,
          -15.6, -19.9, -24.0, -37.0, -27.8, -24.5, -22.1, -20.1, -17.7, -13.6, -8.2, -1.2,
          3.5, 8.2, 11.5, 16.5, 8.3, 3.7, -0.2, -4.8, -9.3,
          -14.0, -17.2, -19.5, -22.0, -27.0, -25.0, -22.0, -19.0, -15.6, -13.2, -10.8, -9.1, -8.0, -7.4, -7.3, -7.8, -9.0, -10.9, -13.0, -15.0,
          -17.2, -19.4, -21.7, -23.9, -26.6, -29.2]
mag_56 = [1.4, 1.6, 2.2, 3.4, 5.3, 7.5, 9.8, 12.0, 13.6, 14.4, 13.2, 11.4, 9.3, 6.7, 3.1, -0.9, -5.2, -10.0,
          -15.2, -19.0, -21.9, -24.8, -27.0, -29.5, -26.0, -22.8, -19.0, -14.4, -8.7, -1.7,
          3.5, 10.5, 9.0, 7.2, 4.5, 1.4, -2.2, -6.8, -11.6,
          -17.5, -20.5, -22.5, -25.0, -28.5, -38.0, -26.0, -20.0, -15.5, -13.0, -10.8, -9.5, -8.9, -8.7, -8.8, -9.4, -10.6, -12.5, -14.6, -16.6,
          -18.6, -20.9, -23.2, -25.4, -28.0, -30.6]

black_curves = [mag_01, mag_02, mag_03, mag_04, mag_05, mag_06, mag_07, mag_08, mag_09, mag_10,
                mag_11, mag_12, mag_13, mag_14, mag_15, mag_16, mag_17, mag_18, mag_19, mag_20,
                mag_21, mag_22, mag_23, mag_24, mag_25, mag_26, mag_27, mag_28, mag_29, mag_30,
                mag_31, mag_32, mag_33, mag_34, mag_35, mag_36, mag_37, mag_38, mag_39, mag_40,
                mag_41, mag_42, mag_43, mag_44, mag_45, mag_46, mag_47, mag_48, mag_49, mag_50,
                mag_51, mag_52, mag_53, mag_54, mag_55, mag_56]

for i, m in enumerate(black_curves):
    assert len(m) == len(freq), (i + 1, len(m))
assert len(nominal) == len(freq)

x_tick_values = [1, 2, 3, 4, 5, 6, 7, 8, 9, 10]
y_tick_values = [-50, -40, -30, -20, -10, 0, 10, 20, 30]

title_text = "Bode Diagram"
x_label = "Frequency  (rad/sec)"
y_label = "Magnitude (dB)"

fig = go.Figure()
for m in black_curves:
    fig.add_trace(go.Scatter(x=freq, y=m, mode="lines",
                             line=dict(color="black", width=2.0),
                             showlegend=False, hoverinfo="skip"))
fig.add_trace(go.Scatter(x=freq, y=nominal, mode="lines",
                         line=dict(color="#ffffff", width=2.6),
                         showlegend=False, hoverinfo="skip"))

W, H = 1232, 691
ML, MR, MT, MB = 196, 123, 96, 80
PW, PH = W - ML - MR, H - MT - MB

axis_col = "#7f7f7f"
txt_font = "Liberation Sans, Arial, sans-serif"
tick_font = dict(family=txt_font, size=18, color="#555555")
common = dict(showline=True, linecolor=axis_col, linewidth=1.5, mirror="ticks",
              ticks="inside", ticklen=7, tickwidth=1.2, tickcolor=axis_col,
              showgrid=False, zeroline=False, tickfont=tick_font)

fig.update_xaxes(range=[0, 10], tickvals=x_tick_values, **common)
fig.update_yaxes(range=[-50, 30], tickvals=y_tick_values, ticklabelstandoff=3, **common)


def px_to_paper_x(px):
    return (px - ML) / PW


def px_to_paper_y(py):
    return (H - MB - py) / PH


fig.update_layout(
    width=W, height=H, autosize=False,
    margin=dict(l=ML, r=MR, t=MT, b=MB),
    paper_bgcolor="white", plot_bgcolor="white",
    annotations=[
        dict(text=title_text, x=0.5, y=px_to_paper_y(57), xref="paper", yref="paper",
             showarrow=False, xanchor="center", yanchor="middle",
             font=dict(family=txt_font, size=17, color="black")),
        dict(text=x_label, x=0.5, y=px_to_paper_y(650), xref="paper", yref="paper",
             showarrow=False, xanchor="center", yanchor="middle",
             font=dict(family=txt_font, size=19, color="black")),
        dict(text=y_label, x=px_to_paper_x(123), y=0.5, xref="paper", yref="paper",
             showarrow=False, xanchor="center", yanchor="middle", textangle=-90,
             font=dict(family=txt_font, size=18, color="black")),
    ],
    shapes=[
        dict(type="rect", xref="paper", yref="paper",
             x0=px_to_paper_x(0.5), x1=px_to_paper_x(1230.5),
             y0=px_to_paper_y(689.5), y1=px_to_paper_y(0.5),
             line=dict(color="#333333", width=1), fillcolor="rgba(0,0,0,0)", layer="below"),
    ],
)

fig.write_html("out.html")
